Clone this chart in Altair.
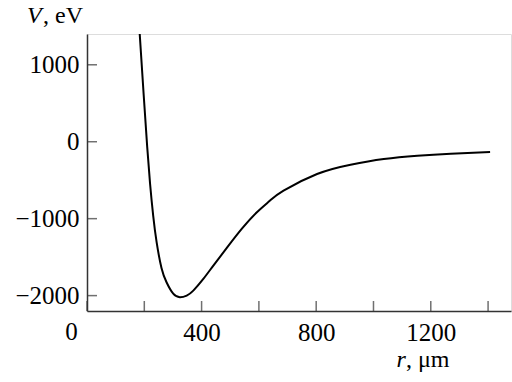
import altair as alt
import pandas as pd

# Potential energy V(r) along the radial coordinate
r_um = [184, 198, 210, 220, 231, 243, 260, 278, 301, 324, 348, 371, 406, 441,
        488, 540, 593, 639, 686, 803, 920, 1036, 1153, 1270, 1407]
v_ev = [1400, 600, -60, -540, -961, -1306, -1640, -1830, -1975, -2021, -2000,
        -1935, -1783, -1610, -1380, -1134, -917, -765, -636, -419, -298, -225,
        -182, -155, -132]

x_ticks = [0, 200, 400, 600, 800, 1000, 1200, 1400]
x_labels = [400, 800, 1200]
y_ticks = [-2000, -1000, 0, 1000]

X_DOMAIN = [0, 1480]
Y_DOMAIN = [-2200, 1400]
SERIF = "Liberation Serif"
AXIS_COLOR = "#333333"
LABEL_SIZE = 25
TITLE_SIZE = 24

curve = pd.DataFrame({"r": r_um, "V": v_ev})
xt = pd.DataFrame({"r": x_ticks})
yt = pd.DataFrame({"V": y_ticks})

x_scale = alt.Scale(domain=X_DOMAIN, nice=False, zero=False)
y_scale = alt.Scale(domain=Y_DOMAIN, nice=False, zero=False)

label_expr = " || ".join(f"datum.value == {v}" for v in x_labels)

line = alt.Chart(curve).mark_line(
    color="black", strokeWidth=2, interpolate="natural", clip=True
).encode(
    x=alt.X("r:Q", scale=x_scale, axis=alt.Axis(
        values=x_ticks, ticks=False, tickSize=0, labelExpr=f"({label_expr}) ? datum.label : ''",
        format="d", labelFont=SERIF, labelFontSize=LABEL_SIZE, labelColor="black",
        labelBaseline="alphabetic", labelPadding=29, domainColor=AXIS_COLOR,
        domainWidth=1.5, grid=False, title=None, labelFlush=False)),
    y=alt.Y("V:Q", scale=y_scale, axis=alt.Axis(
        values=y_ticks, ticks=False, tickSize=0, format="d", labelFont=SERIF,
        labelFontSize=LABEL_SIZE, labelColor="black", labelPadding=8,
        domainColor=AXIS_COLOR, domainWidth=1.5, grid=False, title=None,
        labelFlush=False)),
)

# inward-pointing tick marks
x_tick_marks = alt.Chart(xt).mark_tick(
    orient="vertical", size=10, thickness=1.5, color=AXIS_COLOR, yOffset=-5
).encode(x=alt.X("r:Q", scale=x_scale), y=alt.datum(Y_DOMAIN[0]))

y_tick_marks = alt.Chart(yt).mark_tick(
    orient="horizontal", size=10, thickness=1.5, color=AXIS_COLOR, xOffset=5
).encode(y=alt.Y("V:Q", scale=y_scale), x=alt.datum(X_DOMAIN[0]))

origin = alt.Chart(pd.DataFrame({"t": ["0"]})).mark_text(
    font=SERIF, fontSize=LABEL_SIZE, align="center", baseline="alphabetic", color="black"
).encode(text="t:N", x=alt.value(-15.6), y=alt.value(306))

v_sym = alt.Chart(pd.DataFrame({"t": ["V"]})).mark_text(
    font=SERIF, fontSize=TITLE_SIZE, fontStyle="italic", align="left",
    baseline="alphabetic", color="black"
).encode(text="t:N", x=alt.value(-60), y=alt.value(-11.5))
v_unit = alt.Chart(pd.DataFrame({"t": [", eV"]})).mark_text(
    font=SERIF, fontSize=TITLE_SIZE, align="left", baseline="alphabetic", color="black"
).encode(text="t:N", x=alt.value(-44), y=alt.value(-11.5))

r_sym = alt.Chart(pd.DataFrame({"t": ["r"]})).mark_text(
    font=SERIF, fontSize=TITLE_SIZE, fontStyle="italic", align="left",
    baseline="alphabetic", color="black"
).encode(text="t:N", x=alt.value(309.4), y=alt.value(332.7))
r_unit = alt.Chart(pd.DataFrame({"t": [", μm"]})).mark_text(
    font=SERIF, fontSize=TITLE_SIZE, align="left", baseline="alphabetic", color="black"
).encode(text="t:N", x=alt.value(319), y=alt.value(332.7))

chart = alt.layer(
    line, x_tick_marks, y_tick_marks, origin, v_sym, v_unit, r_sym, r_unit
).properties(
    width=424, height=277,
    autosize=alt.AutoSizeParams(type="none"),
    padding={"left": 87, "top": 34, "right": 1, "bottom": 71},
).configure_view(stroke=None).configure(background="white")

chart.save("out.html", embed_options={"renderer": "svg", "actions": False})
